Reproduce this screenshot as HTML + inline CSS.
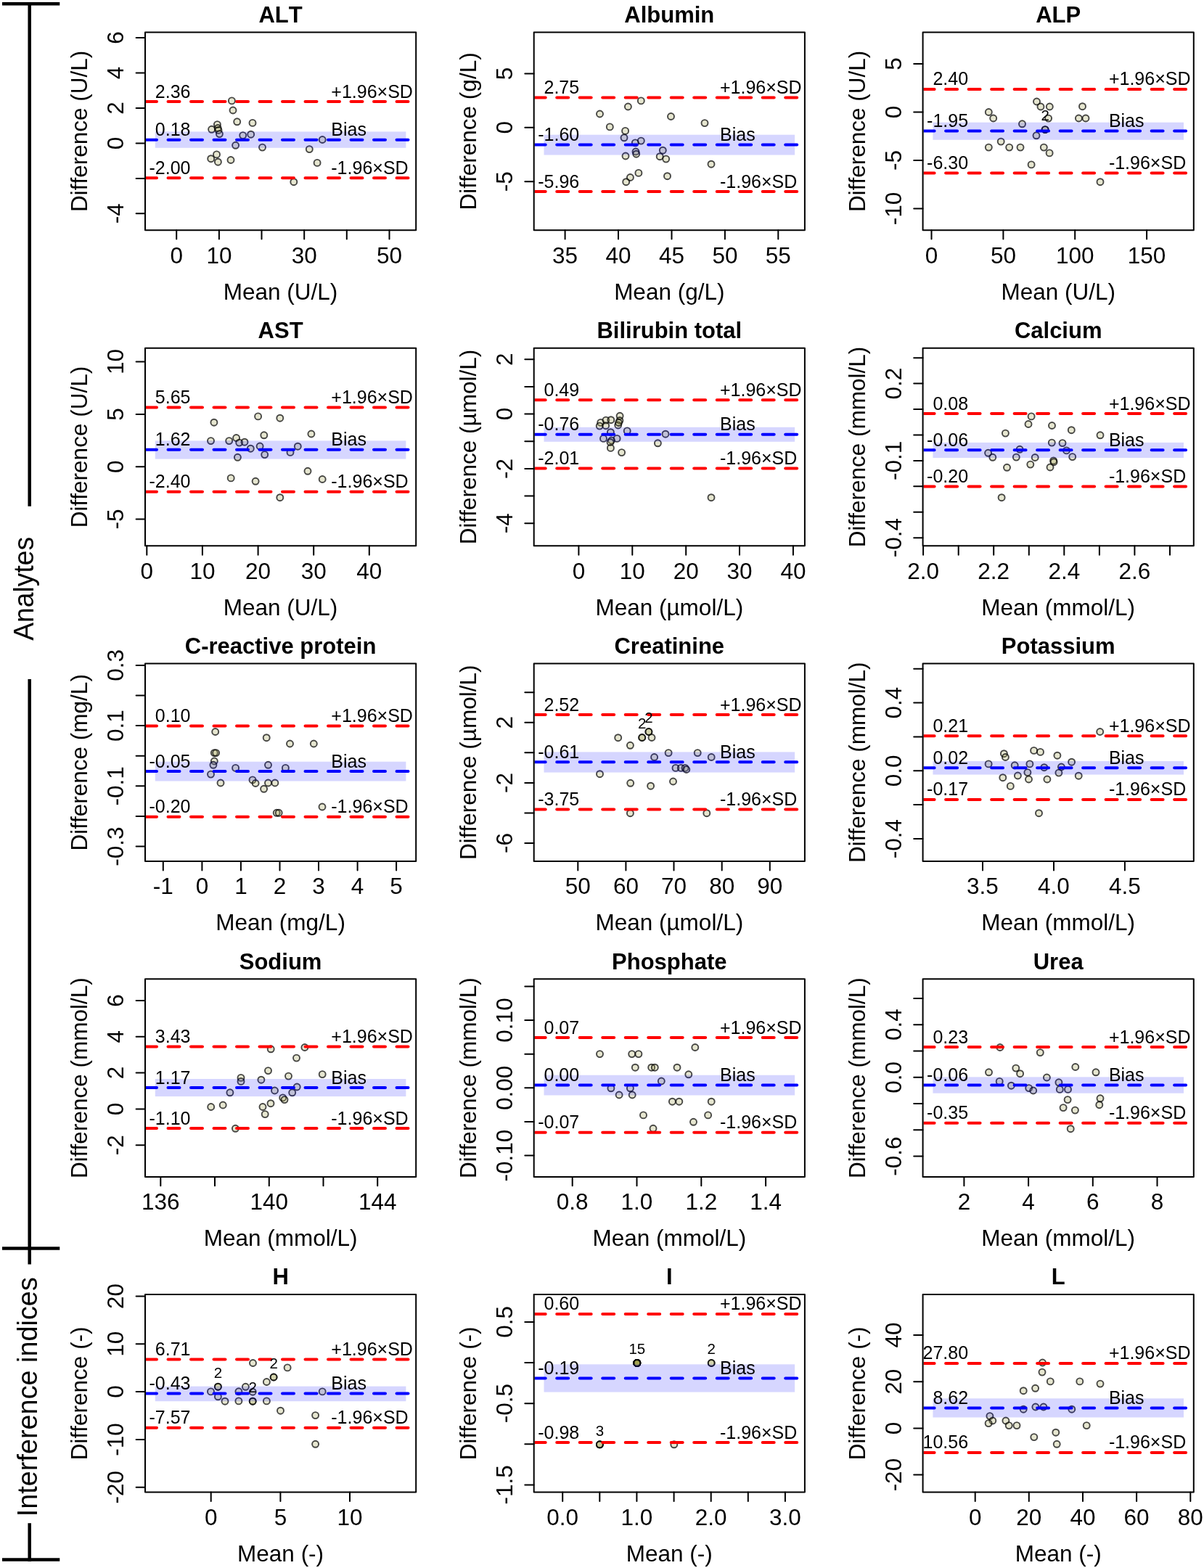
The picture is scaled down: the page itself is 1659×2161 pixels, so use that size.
<!DOCTYPE html>
<html><head><meta charset="utf-8"><title>Bland-Altman plots</title>
<style>html,body{margin:0;padding:0;background:#fff}svg{display:block}text{font-kerning:none}.ax{font-family:"Liberation Sans",Arial,sans-serif;font-size:31.5px}.ti{font-family:"Liberation Sans",Arial,sans-serif;font-size:31.0px;font-weight:bold}.in{font-family:"Liberation Sans",Arial,sans-serif;font-size:25.0px}.cn{font-family:"Liberation Sans",Arial,sans-serif;font-size:20.5px}.side{font-family:"Liberation Sans",Arial,sans-serif;font-size:38px}</style></head><body>
<svg width="1659" height="2161" viewBox="0 0 1659 2161">
<rect width="1659" height="2161" fill="#fff"/>
<defs>
<clipPath id="c0"><rect x="201.0" y="45.6" width="371.2" height="270.6"/></clipPath>
<clipPath id="c1"><rect x="736.7" y="45.6" width="371.2" height="270.6"/></clipPath>
<clipPath id="c2"><rect x="1272.6" y="45.6" width="371.2" height="270.6"/></clipPath>
<clipPath id="c3"><rect x="201.0" y="480.7" width="371.2" height="270.6"/></clipPath>
<clipPath id="c4"><rect x="736.7" y="480.7" width="371.2" height="270.6"/></clipPath>
<clipPath id="c5"><rect x="1272.6" y="480.7" width="371.2" height="270.6"/></clipPath>
<clipPath id="c6"><rect x="201.0" y="915.5" width="371.2" height="270.6"/></clipPath>
<clipPath id="c7"><rect x="736.7" y="915.5" width="371.2" height="270.6"/></clipPath>
<clipPath id="c8"><rect x="1272.6" y="915.5" width="371.2" height="270.6"/></clipPath>
<clipPath id="c9"><rect x="201.0" y="1350.3" width="371.2" height="270.6"/></clipPath>
<clipPath id="c10"><rect x="736.7" y="1350.3" width="371.2" height="270.6"/></clipPath>
<clipPath id="c11"><rect x="1272.6" y="1350.3" width="371.2" height="270.6"/></clipPath>
<clipPath id="c12"><rect x="201.0" y="1785.0" width="371.2" height="270.6"/></clipPath>
<clipPath id="c13"><rect x="736.7" y="1785.0" width="371.2" height="270.6"/></clipPath>
<clipPath id="c14"><rect x="1272.6" y="1785.0" width="371.2" height="270.6"/></clipPath>
</defs>
<g stroke="#000" stroke-width="4.5" fill="none"><line x1="3" y1="5.25" x2="82.3" y2="5.25"/><line x1="40.7" y1="3" x2="40.7" y2="697.8"/><line x1="40.7" y1="936" x2="40.7" y2="1742.4"/><line x1="3" y1="1720.5" x2="82.3" y2="1720.5"/><line x1="40.7" y1="2099.2" x2="40.7" y2="2152"/><line x1="3" y1="2149.5" x2="82.3" y2="2149.5"/></g>
<text class="side" transform="translate(45.9,882.8) rotate(-90)" textLength="143" lengthAdjust="spacingAndGlyphs">Analytes</text>
<text class="side" transform="translate(50.5,2090.2) rotate(-90)" textLength="330" lengthAdjust="spacingAndGlyphs">Interference indices</text>
<g>
<g clip-path="url(#c0)" fill="rgba(163,163,82,0.27)" stroke="rgba(0,0,0,0.71)" stroke-width="1.90"><circle cx="319.4" cy="138.9" r="4.50"/><circle cx="321.0" cy="152.0" r="4.50"/><circle cx="326.7" cy="167.8" r="4.50"/><circle cx="348.0" cy="169.4" r="4.50"/><circle cx="299.4" cy="171.6" r="4.50"/><circle cx="291.6" cy="178.3" r="4.50"/><circle cx="300.2" cy="176.5" r="4.50"/><circle cx="301.0" cy="179.5" r="4.50"/><circle cx="302.4" cy="184.6" r="4.50"/><circle cx="334.7" cy="186.6" r="4.50"/><circle cx="345.7" cy="185.2" r="4.50"/><circle cx="444.2" cy="192.5" r="4.50"/><circle cx="324.6" cy="200.3" r="4.50"/><circle cx="361.5" cy="203.1" r="4.50"/><circle cx="426.3" cy="205.6" r="4.50"/><circle cx="298.5" cy="212.9" r="4.50"/><circle cx="290.7" cy="218.7" r="4.50"/><circle cx="300.4" cy="223.2" r="4.50"/><circle cx="318.0" cy="220.5" r="4.50"/><circle cx="437.1" cy="224.4" r="4.50"/><circle cx="404.8" cy="250.7" r="4.50"/></g>
<rect x="213.8" y="181.4" width="345.6" height="22.4" fill="rgba(0,0,255,0.16)"/>
<g clip-path="url(#c0)" stroke-width="4.0" stroke-linecap="round" stroke-dasharray="16 15.5" fill="none"><line x1="200.0" y1="192.8" x2="573.2" y2="192.8" stroke="#0000ff"/><line x1="200.0" y1="140.1" x2="573.2" y2="140.1" stroke="#ff0000"/><line x1="200.0" y1="245.3" x2="573.2" y2="245.3" stroke="#ff0000"/></g>
<g class="in" clip-path="url(#c0)"><text x="262.5" y="134.6" text-anchor="end">2.36</text><text x="262.5" y="187.3" text-anchor="end">0.18</text><text x="262.5" y="239.8" text-anchor="end">-2.00</text><text x="456.3" y="134.6">+1.96×SD</text><text x="456.3" y="187.3">Bias</text><text x="456.3" y="239.8">-1.96×SD</text></g>
<rect x="200.0" y="44.6" width="373.2" height="272.6" fill="none" stroke="#000" stroke-width="2" stroke-linejoin="round"/>
<path d="M187.6 52.0H200.0M187.6 100.5H200.0M187.6 148.9H200.0M187.6 197.4H200.0M187.6 245.9H200.0M187.6 294.3H200.0M243.2 317.2V329.6M301.9 317.2V329.6M360.5 317.2V329.6M419.2 317.2V329.6M477.8 317.2V329.6M536.5 317.2V329.6" stroke="#000" stroke-width="2" stroke-linecap="round" fill="none"/>
<g class="ax" text-anchor="middle"><text transform="translate(170.4,52.0) rotate(-90)">6</text><text transform="translate(170.4,100.5) rotate(-90)">4</text><text transform="translate(170.4,148.9) rotate(-90)">2</text><text transform="translate(170.4,197.4) rotate(-90)">0</text><text transform="translate(170.4,294.3) rotate(-90)">-4</text><text x="243.2" y="362.5">0</text><text x="301.9" y="362.5">10</text><text x="419.2" y="362.5">30</text><text x="536.5" y="362.5">50</text><text x="386.6" y="412.5">Mean (U/L)</text><text transform="translate(120.3,180.9) rotate(-90)">Difference (U/L)</text></g>
<text class="ti" x="386.6" y="30.9" text-anchor="middle">ALT</text>
</g>
<g>
<g clip-path="url(#c1)" fill="rgba(163,163,82,0.27)" stroke="rgba(0,0,0,0.71)" stroke-width="1.90"><circle cx="883.3" cy="138.9" r="4.50"/><circle cx="865.4" cy="147.0" r="4.50"/><circle cx="826.5" cy="157.0" r="4.50"/><circle cx="924.5" cy="160.5" r="4.50"/><circle cx="971.0" cy="169.6" r="4.50"/><circle cx="840.3" cy="174.9" r="4.50"/><circle cx="861.6" cy="180.4" r="4.50"/><circle cx="860.0" cy="189.8" r="4.50"/><circle cx="883.3" cy="194.1" r="4.50"/><circle cx="875.3" cy="196.9" r="4.50"/><circle cx="913.3" cy="207.2" r="4.50"/><circle cx="876.0" cy="209.0" r="4.50"/><circle cx="876.7" cy="212.2" r="4.50"/><circle cx="862.0" cy="215.0" r="4.50"/><circle cx="909.2" cy="215.7" r="4.50"/><circle cx="917.7" cy="219.1" r="4.50"/><circle cx="980.0" cy="226.2" r="4.50"/><circle cx="879.9" cy="238.4" r="4.50"/><circle cx="919.5" cy="242.7" r="4.50"/><circle cx="868.4" cy="244.5" r="4.50"/><circle cx="862.7" cy="250.7" r="4.50"/></g>
<rect x="749.5" y="185.7" width="345.6" height="27.9" fill="rgba(0,0,255,0.16)"/>
<g clip-path="url(#c1)" stroke-width="4.0" stroke-linecap="round" stroke-dasharray="16 15.5" fill="none"><line x1="735.7" y1="199.4" x2="1108.9" y2="199.4" stroke="#0000ff"/><line x1="735.7" y1="134.6" x2="1108.9" y2="134.6" stroke="#ff0000"/><line x1="735.7" y1="264.1" x2="1108.9" y2="264.1" stroke="#ff0000"/></g>
<g class="in" clip-path="url(#c1)"><text x="798.2" y="129.1" text-anchor="end">2.75</text><text x="798.2" y="193.9" text-anchor="end">-1.60</text><text x="798.2" y="258.6" text-anchor="end">-5.96</text><text x="992.0" y="129.1">+1.96×SD</text><text x="992.0" y="193.9">Bias</text><text x="992.0" y="258.6">-1.96×SD</text></g>
<rect x="735.7" y="44.6" width="373.2" height="272.6" fill="none" stroke="#000" stroke-width="2" stroke-linejoin="round"/>
<path d="M723.3 101.4H735.7M723.3 175.8H735.7M723.3 250.2H735.7M778.6 317.2V329.6M852.0 317.2V329.6M925.5 317.2V329.6M998.9 317.2V329.6M1072.3 317.2V329.6" stroke="#000" stroke-width="2" stroke-linecap="round" fill="none"/>
<g class="ax" text-anchor="middle"><text transform="translate(706.1,101.4) rotate(-90)">5</text><text transform="translate(706.1,175.8) rotate(-90)">0</text><text transform="translate(706.1,250.2) rotate(-90)">-5</text><text x="778.6" y="362.5">35</text><text x="852.0" y="362.5">40</text><text x="925.5" y="362.5">45</text><text x="998.9" y="362.5">50</text><text x="1072.3" y="362.5">55</text><text x="922.3" y="412.5">Mean (g/L)</text><text transform="translate(656.0,180.9) rotate(-90)">Difference (g/L)</text></g>
<text class="ti" x="922.3" y="30.9" text-anchor="middle">Albumin</text>
</g>
<g>
<g clip-path="url(#c2)" fill="rgba(163,163,82,0.27)" stroke="rgba(0,0,0,0.71)" stroke-width="1.90"><circle cx="1428.5" cy="140.0" r="4.50"/><circle cx="1434.0" cy="147.0" r="4.50"/><circle cx="1446.3" cy="147.0" r="4.50"/><circle cx="1491.5" cy="146.7" r="4.50"/><circle cx="1362.3" cy="154.5" r="4.50"/><circle cx="1368.7" cy="163.0" r="4.50"/><circle cx="1444.6" cy="163.1" r="4.50"/><circle cx="1486.4" cy="163.0" r="4.50"/><circle cx="1496.0" cy="163.0" r="4.50"/><circle cx="1408.5" cy="170.8" r="4.50"/><circle cx="1440.1" cy="178.6" r="4.50"/><circle cx="1440.1" cy="178.6" r="4.50"/><circle cx="1428.0" cy="186.8" r="4.50"/><circle cx="1379.2" cy="195.1" r="4.50"/><circle cx="1362.3" cy="203.1" r="4.50"/><circle cx="1390.7" cy="203.1" r="4.50"/><circle cx="1406.0" cy="203.1" r="4.50"/><circle cx="1438.3" cy="203.1" r="4.50"/><circle cx="1446.1" cy="210.9" r="4.50"/><circle cx="1421.1" cy="226.9" r="4.50"/><circle cx="1516.0" cy="250.7" r="4.50"/></g>
<rect x="1285.4" y="168.7" width="345.6" height="24.1" fill="rgba(0,0,255,0.16)"/>
<g clip-path="url(#c2)" stroke-width="4.0" stroke-linecap="round" stroke-dasharray="16 15.5" fill="none"><line x1="1271.6" y1="180.6" x2="1644.8" y2="180.6" stroke="#0000ff"/><line x1="1271.6" y1="122.9" x2="1644.8" y2="122.9" stroke="#ff0000"/><line x1="1271.6" y1="238.4" x2="1644.8" y2="238.4" stroke="#ff0000"/></g>
<g class="in" clip-path="url(#c2)"><text x="1334.1" y="117.4" text-anchor="end">2.40</text><text x="1334.1" y="175.1" text-anchor="end">-1.95</text><text x="1334.1" y="232.9" text-anchor="end">-6.30</text><text x="1527.9" y="117.4">+1.96×SD</text><text x="1527.9" y="175.1">Bias</text><text x="1527.9" y="232.9">-1.96×SD</text></g>
<text class="cn" x="1440.1" y="166.3" text-anchor="middle">2</text>
<rect x="1271.6" y="44.6" width="373.2" height="272.6" fill="none" stroke="#000" stroke-width="2" stroke-linejoin="round"/>
<path d="M1259.2 88.1H1271.6M1259.2 154.5H1271.6M1259.2 221.0H1271.6M1259.2 287.4H1271.6M1283.5 317.2V329.6M1382.4 317.2V329.6M1481.2 317.2V329.6M1580.1 317.2V329.6" stroke="#000" stroke-width="2" stroke-linecap="round" fill="none"/>
<g class="ax" text-anchor="middle"><text transform="translate(1242.0,88.1) rotate(-90)">5</text><text transform="translate(1242.0,154.5) rotate(-90)">0</text><text transform="translate(1242.0,221.0) rotate(-90)">-5</text><text transform="translate(1242.0,287.4) rotate(-90)">-10</text><text x="1283.5" y="362.5">0</text><text x="1382.4" y="362.5">50</text><text x="1481.2" y="362.5">100</text><text x="1580.1" y="362.5">150</text><text x="1458.2" y="412.5">Mean (U/L)</text><text transform="translate(1191.9,180.9) rotate(-90)">Difference (U/L)</text></g>
<text class="ti" x="1458.2" y="30.9" text-anchor="middle">ALP</text>
</g>
<g>
<g clip-path="url(#c3)" fill="rgba(163,163,82,0.27)" stroke="rgba(0,0,0,0.71)" stroke-width="1.90"><circle cx="355.6" cy="573.9" r="4.50"/><circle cx="385.8" cy="576.2" r="4.50"/><circle cx="294.9" cy="582.2" r="4.50"/><circle cx="363.8" cy="599.8" r="4.50"/><circle cx="428.9" cy="598.0" r="4.50"/><circle cx="325.6" cy="603.5" r="4.50"/><circle cx="290.5" cy="607.6" r="4.50"/><circle cx="315.7" cy="607.6" r="4.50"/><circle cx="329.7" cy="610.1" r="4.50"/><circle cx="337.0" cy="609.2" r="4.50"/><circle cx="358.1" cy="615.0" r="4.50"/><circle cx="410.3" cy="615.2" r="4.50"/><circle cx="345.3" cy="618.2" r="4.50"/><circle cx="400.0" cy="623.4" r="4.50"/><circle cx="364.7" cy="626.6" r="4.50"/><circle cx="327.4" cy="630.3" r="4.50"/><circle cx="424.0" cy="649.3" r="4.50"/><circle cx="318.2" cy="658.9" r="4.50"/><circle cx="444.2" cy="660.5" r="4.50"/><circle cx="352.1" cy="663.3" r="4.50"/><circle cx="385.8" cy="685.7" r="4.50"/></g>
<rect x="213.8" y="607.4" width="345.6" height="25.2" fill="rgba(0,0,255,0.16)"/>
<g clip-path="url(#c3)" stroke-width="4.0" stroke-linecap="round" stroke-dasharray="16 15.5" fill="none"><line x1="200.0" y1="619.8" x2="573.2" y2="619.8" stroke="#0000ff"/><line x1="200.0" y1="561.6" x2="573.2" y2="561.6" stroke="#ff0000"/><line x1="200.0" y1="677.7" x2="573.2" y2="677.7" stroke="#ff0000"/></g>
<g class="in" clip-path="url(#c3)"><text x="262.5" y="556.1" text-anchor="end">5.65</text><text x="262.5" y="614.3" text-anchor="end">1.62</text><text x="262.5" y="672.2" text-anchor="end">-2.40</text><text x="456.3" y="556.1">+1.96×SD</text><text x="456.3" y="614.3">Bias</text><text x="456.3" y="672.2">-1.96×SD</text></g>
<rect x="200.0" y="479.7" width="373.2" height="272.6" fill="none" stroke="#000" stroke-width="2" stroke-linejoin="round"/>
<path d="M187.6 498.6H200.0M187.6 570.9H200.0M187.6 643.2H200.0M187.6 715.5H200.0M202.3 752.3V764.7M278.9 752.3V764.7M355.6 752.3V764.7M432.2 752.3V764.7M508.8 752.3V764.7" stroke="#000" stroke-width="2" stroke-linecap="round" fill="none"/>
<g class="ax" text-anchor="middle"><text transform="translate(170.4,498.6) rotate(-90)">10</text><text transform="translate(170.4,570.9) rotate(-90)">5</text><text transform="translate(170.4,643.2) rotate(-90)">0</text><text transform="translate(170.4,715.5) rotate(-90)">-5</text><text x="202.3" y="797.6">0</text><text x="278.9" y="797.6">10</text><text x="355.6" y="797.6">20</text><text x="432.2" y="797.6">30</text><text x="508.8" y="797.6">40</text><text x="386.6" y="847.6">Mean (U/L)</text><text transform="translate(120.3,616.0) rotate(-90)">Difference (U/L)</text></g>
<text class="ti" x="386.6" y="466.0" text-anchor="middle">AST</text>
</g>
<g>
<g clip-path="url(#c4)" fill="rgba(163,163,82,0.27)" stroke="rgba(0,0,0,0.71)" stroke-width="1.90"><circle cx="854.1" cy="573.3" r="4.50"/><circle cx="853.9" cy="579.5" r="4.50"/><circle cx="851.7" cy="586.0" r="4.50"/><circle cx="827.7" cy="582.4" r="4.50"/><circle cx="834.9" cy="579.1" r="4.50"/><circle cx="841.8" cy="578.7" r="4.50"/><circle cx="826.2" cy="587.1" r="4.50"/><circle cx="834.7" cy="586.7" r="4.50"/><circle cx="852.5" cy="582.5" r="4.50"/><circle cx="864.2" cy="593.9" r="4.50"/><circle cx="841.4" cy="595.7" r="4.50"/><circle cx="917.0" cy="598.2" r="4.50"/><circle cx="831.5" cy="604.4" r="4.50"/><circle cx="850.1" cy="604.4" r="4.50"/><circle cx="842.5" cy="607.0" r="4.50"/><circle cx="841.0" cy="609.5" r="4.50"/><circle cx="906.4" cy="610.8" r="4.50"/><circle cx="841.4" cy="617.4" r="4.50"/><circle cx="856.6" cy="623.6" r="4.50"/><circle cx="980.0" cy="685.7" r="4.50"/></g>
<rect x="749.5" y="588.8" width="345.6" height="20.0" fill="rgba(0,0,255,0.16)"/>
<g clip-path="url(#c4)" stroke-width="4.0" stroke-linecap="round" stroke-dasharray="16 15.5" fill="none"><line x1="735.7" y1="598.7" x2="1108.9" y2="598.7" stroke="#0000ff"/><line x1="735.7" y1="551.3" x2="1108.9" y2="551.3" stroke="#ff0000"/><line x1="735.7" y1="645.6" x2="1108.9" y2="645.6" stroke="#ff0000"/></g>
<g class="in" clip-path="url(#c4)"><text x="798.2" y="545.8" text-anchor="end">0.49</text><text x="798.2" y="593.2" text-anchor="end">-0.76</text><text x="798.2" y="640.1" text-anchor="end">-2.01</text><text x="992.0" y="545.8">+1.96×SD</text><text x="992.0" y="593.2">Bias</text><text x="992.0" y="640.1">-1.96×SD</text></g>
<rect x="735.7" y="479.7" width="373.2" height="272.6" fill="none" stroke="#000" stroke-width="2" stroke-linejoin="round"/>
<path d="M723.3 495.2H735.7M723.3 532.9H735.7M723.3 570.5H735.7M723.3 608.2H735.7M723.3 645.9H735.7M723.3 683.5H735.7M723.3 721.2H735.7M797.4 752.3V764.7M871.3 752.3V764.7M945.2 752.3V764.7M1019.0 752.3V764.7M1092.9 752.3V764.7" stroke="#000" stroke-width="2" stroke-linecap="round" fill="none"/>
<g class="ax" text-anchor="middle"><text transform="translate(706.1,495.2) rotate(-90)">2</text><text transform="translate(706.1,570.5) rotate(-90)">0</text><text transform="translate(706.1,645.9) rotate(-90)">-2</text><text transform="translate(706.1,721.2) rotate(-90)">-4</text><text x="797.4" y="797.6">0</text><text x="871.3" y="797.6">10</text><text x="945.2" y="797.6">20</text><text x="1019.0" y="797.6">30</text><text x="1092.9" y="797.6">40</text><text x="922.3" y="847.6">Mean (µmol/L)</text><text transform="translate(656.0,616.0) rotate(-90)">Difference (µmol/L)</text></g>
<text class="ti" x="922.3" y="466.0" text-anchor="middle">Bilirubin total</text>
</g>
<g>
<g clip-path="url(#c5)" fill="rgba(163,163,82,0.27)" stroke="rgba(0,0,0,0.71)" stroke-width="1.90"><circle cx="1421.1" cy="573.9" r="4.50"/><circle cx="1417.0" cy="584.5" r="4.50"/><circle cx="1449.5" cy="586.5" r="4.50"/><circle cx="1476.3" cy="592.7" r="4.50"/><circle cx="1385.4" cy="597.1" r="4.50"/><circle cx="1516.0" cy="599.8" r="4.50"/><circle cx="1449.3" cy="610.1" r="4.50"/><circle cx="1464.0" cy="610.6" r="4.50"/><circle cx="1405.1" cy="619.3" r="4.50"/><circle cx="1469.5" cy="620.9" r="4.50"/><circle cx="1361.6" cy="624.3" r="4.50"/><circle cx="1367.8" cy="630.3" r="4.50"/><circle cx="1400.3" cy="630.1" r="4.50"/><circle cx="1426.2" cy="630.5" r="4.50"/><circle cx="1477.7" cy="629.6" r="4.50"/><circle cx="1451.6" cy="634.9" r="4.50"/><circle cx="1452.1" cy="636.7" r="4.50"/><circle cx="1419.8" cy="640.1" r="4.50"/><circle cx="1387.5" cy="644.3" r="4.50"/><circle cx="1447.0" cy="644.0" r="4.50"/><circle cx="1380.1" cy="685.7" r="4.50"/></g>
<rect x="1285.4" y="609.9" width="345.6" height="21.1" fill="rgba(0,0,255,0.16)"/>
<g clip-path="url(#c5)" stroke-width="4.0" stroke-linecap="round" stroke-dasharray="16 15.5" fill="none"><line x1="1271.6" y1="620.3" x2="1644.8" y2="620.3" stroke="#0000ff"/><line x1="1271.6" y1="570.0" x2="1644.8" y2="570.0" stroke="#ff0000"/><line x1="1271.6" y1="670.5" x2="1644.8" y2="670.5" stroke="#ff0000"/></g>
<g class="in" clip-path="url(#c5)"><text x="1334.1" y="564.5" text-anchor="end">0.08</text><text x="1334.1" y="614.8" text-anchor="end">-0.06</text><text x="1334.1" y="665.0" text-anchor="end">-0.20</text><text x="1527.9" y="564.5">+1.96×SD</text><text x="1527.9" y="614.8">Bias</text><text x="1527.9" y="665.0">-1.96×SD</text></g>
<rect x="1271.6" y="479.7" width="373.2" height="272.6" fill="none" stroke="#000" stroke-width="2" stroke-linejoin="round"/>
<path d="M1259.2 493.2H1271.6M1259.2 528.6H1271.6M1259.2 564.1H1271.6M1259.2 599.5H1271.6M1259.2 634.9H1271.6M1259.2 670.3H1271.6M1259.2 705.8H1271.6M1259.2 741.2H1271.6M1272.1 752.3V764.7M1320.7 752.3V764.7M1369.2 752.3V764.7M1417.8 752.3V764.7M1466.3 752.3V764.7M1514.9 752.3V764.7M1563.4 752.3V764.7M1612.0 752.3V764.7" stroke="#000" stroke-width="2" stroke-linecap="round" fill="none"/>
<g class="ax" text-anchor="middle"><text transform="translate(1242.0,528.6) rotate(-90)">0.2</text><text transform="translate(1242.0,634.9) rotate(-90)">-0.1</text><text transform="translate(1242.0,741.2) rotate(-90)">-0.4</text><text x="1272.1" y="797.6">2.0</text><text x="1369.2" y="797.6">2.2</text><text x="1466.3" y="797.6">2.4</text><text x="1563.4" y="797.6">2.6</text><text x="1458.2" y="847.6">Mean (mmol/L)</text><text transform="translate(1191.9,616.0) rotate(-90)">Difference (mmol/L)</text></g>
<text class="ti" x="1458.2" y="466.0" text-anchor="middle">Calcium</text>
</g>
<g>
<g clip-path="url(#c6)" fill="rgba(163,163,82,0.27)" stroke="rgba(0,0,0,0.71)" stroke-width="1.90"><circle cx="296.7" cy="1008.5" r="4.50"/><circle cx="367.2" cy="1016.7" r="4.50"/><circle cx="399.5" cy="1025.0" r="4.50"/><circle cx="432.3" cy="1025.0" r="4.50"/><circle cx="295.3" cy="1037.6" r="4.50"/><circle cx="297.6" cy="1037.6" r="4.50"/><circle cx="295.3" cy="1049.0" r="4.50"/><circle cx="293.9" cy="1054.3" r="4.50"/><circle cx="324.6" cy="1058.4" r="4.50"/><circle cx="369.5" cy="1054.3" r="4.50"/><circle cx="393.4" cy="1058.4" r="4.50"/><circle cx="290.5" cy="1067.1" r="4.50"/><circle cx="304.0" cy="1079.0" r="4.50"/><circle cx="348.0" cy="1074.9" r="4.50"/><circle cx="352.1" cy="1079.5" r="4.50"/><circle cx="369.5" cy="1079.0" r="4.50"/><circle cx="378.9" cy="1079.0" r="4.50"/><circle cx="363.6" cy="1087.3" r="4.50"/><circle cx="381.2" cy="1120.3" r="4.50"/><circle cx="384.2" cy="1120.3" r="4.50"/><circle cx="444.0" cy="1112.0" r="4.50"/></g>
<rect x="213.8" y="1049.7" width="345.6" height="26.8" fill="rgba(0,0,255,0.16)"/>
<g clip-path="url(#c6)" stroke-width="4.0" stroke-linecap="round" stroke-dasharray="16 15.5" fill="none"><line x1="200.0" y1="1063.0" x2="573.2" y2="1063.0" stroke="#0000ff"/><line x1="200.0" y1="1000.5" x2="573.2" y2="1000.5" stroke="#ff0000"/><line x1="200.0" y1="1125.8" x2="573.2" y2="1125.8" stroke="#ff0000"/></g>
<g class="in" clip-path="url(#c6)"><text x="262.5" y="995.0" text-anchor="end">0.10</text><text x="262.5" y="1057.5" text-anchor="end">-0.05</text><text x="262.5" y="1120.3" text-anchor="end">-0.20</text><text x="456.3" y="995.0">+1.96×SD</text><text x="456.3" y="1057.5">Bias</text><text x="456.3" y="1120.3">-1.96×SD</text></g>
<rect x="200.0" y="914.5" width="373.2" height="272.6" fill="none" stroke="#000" stroke-width="2" stroke-linejoin="round"/>
<path d="M187.6 916.9H200.0M187.6 958.5H200.0M187.6 1000.1H200.0M187.6 1041.7H200.0M187.6 1083.3H200.0M187.6 1124.9H200.0M187.6 1166.5H200.0M224.8 1187.1V1199.5M278.4 1187.1V1199.5M331.9 1187.1V1199.5M385.5 1187.1V1199.5M439.0 1187.1V1199.5M492.6 1187.1V1199.5M546.1 1187.1V1199.5" stroke="#000" stroke-width="2" stroke-linecap="round" fill="none"/>
<g class="ax" text-anchor="middle"><text transform="translate(170.4,916.9) rotate(-90)">0.3</text><text transform="translate(170.4,1000.1) rotate(-90)">0.1</text><text transform="translate(170.4,1083.3) rotate(-90)">-0.1</text><text transform="translate(170.4,1166.5) rotate(-90)">-0.3</text><text x="224.8" y="1232.4">-1</text><text x="278.4" y="1232.4">0</text><text x="331.9" y="1232.4">1</text><text x="385.5" y="1232.4">2</text><text x="439.0" y="1232.4">3</text><text x="492.6" y="1232.4">4</text><text x="546.1" y="1232.4">5</text><text x="386.6" y="1282.4">Mean (mg/L)</text><text transform="translate(120.3,1050.8) rotate(-90)">Difference (mg/L)</text></g>
<text class="ti" x="386.6" y="900.8" text-anchor="middle">C-reactive protein</text>
</g>
<g>
<g clip-path="url(#c7)" fill="rgba(163,163,82,0.27)" stroke="rgba(0,0,0,0.71)" stroke-width="1.90"><circle cx="893.9" cy="1008.5" r="4.50"/><circle cx="893.9" cy="1008.5" r="4.50"/><circle cx="884.7" cy="1016.5" r="4.50"/><circle cx="884.7" cy="1016.5" r="4.50"/><circle cx="898.0" cy="1016.5" r="4.50"/><circle cx="851.7" cy="1016.7" r="4.50"/><circle cx="868.4" cy="1027.3" r="4.50"/><circle cx="921.1" cy="1037.6" r="4.50"/><circle cx="961.2" cy="1037.6" r="4.50"/><circle cx="901.6" cy="1043.5" r="4.50"/><circle cx="980.2" cy="1043.5" r="4.50"/><circle cx="931.0" cy="1058.4" r="4.50"/><circle cx="938.3" cy="1058.4" r="4.50"/><circle cx="944.0" cy="1058.4" r="4.50"/><circle cx="945.8" cy="1060.5" r="4.50"/><circle cx="826.5" cy="1066.7" r="4.50"/><circle cx="868.7" cy="1079.3" r="4.50"/><circle cx="927.5" cy="1077.0" r="4.50"/><circle cx="896.6" cy="1083.2" r="4.50"/><circle cx="868.4" cy="1120.7" r="4.50"/><circle cx="973.8" cy="1120.7" r="4.50"/></g>
<rect x="749.5" y="1036.4" width="345.6" height="28.2" fill="rgba(0,0,255,0.16)"/>
<g clip-path="url(#c7)" stroke-width="4.0" stroke-linecap="round" stroke-dasharray="16 15.5" fill="none"><line x1="735.7" y1="1050.2" x2="1108.9" y2="1050.2" stroke="#0000ff"/><line x1="735.7" y1="985.1" x2="1108.9" y2="985.1" stroke="#ff0000"/><line x1="735.7" y1="1115.5" x2="1108.9" y2="1115.5" stroke="#ff0000"/></g>
<g class="in" clip-path="url(#c7)"><text x="798.2" y="979.6" text-anchor="end">2.52</text><text x="798.2" y="1044.7" text-anchor="end">-0.61</text><text x="798.2" y="1110.0" text-anchor="end">-3.75</text><text x="992.0" y="979.6">+1.96×SD</text><text x="992.0" y="1044.7">Bias</text><text x="992.0" y="1110.0">-1.96×SD</text></g>
<text class="cn" x="893.9" y="996.2" text-anchor="middle">2</text>
<text class="cn" x="884.7" y="1004.2" text-anchor="middle">2</text>
<rect x="735.7" y="914.5" width="373.2" height="272.6" fill="none" stroke="#000" stroke-width="2" stroke-linejoin="round"/>
<path d="M723.3 954.2H735.7M723.3 995.8H735.7M723.3 1037.3H735.7M723.3 1078.9H735.7M723.3 1120.4H735.7M723.3 1162.0H735.7M796.3 1187.1V1199.5M862.4 1187.1V1199.5M928.5 1187.1V1199.5M994.7 1187.1V1199.5M1060.8 1187.1V1199.5" stroke="#000" stroke-width="2" stroke-linecap="round" fill="none"/>
<g class="ax" text-anchor="middle"><text transform="translate(706.1,995.8) rotate(-90)">2</text><text transform="translate(706.1,1078.9) rotate(-90)">-2</text><text transform="translate(706.1,1162.0) rotate(-90)">-6</text><text x="796.3" y="1232.4">50</text><text x="862.4" y="1232.4">60</text><text x="928.5" y="1232.4">70</text><text x="994.7" y="1232.4">80</text><text x="1060.8" y="1232.4">90</text><text x="922.3" y="1282.4">Mean (µmol/L)</text><text transform="translate(656.0,1050.8) rotate(-90)">Difference (µmol/L)</text></g>
<text class="ti" x="922.3" y="900.8" text-anchor="middle">Creatinine</text>
</g>
<g>
<g clip-path="url(#c8)" fill="rgba(163,163,82,0.27)" stroke="rgba(0,0,0,0.71)" stroke-width="1.90"><circle cx="1515.7" cy="1008.5" r="4.50"/><circle cx="1424.6" cy="1034.4" r="4.50"/><circle cx="1433.5" cy="1036.4" r="4.50"/><circle cx="1383.4" cy="1038.7" r="4.50"/><circle cx="1385.4" cy="1043.5" r="4.50"/><circle cx="1456.9" cy="1041.2" r="4.50"/><circle cx="1476.6" cy="1050.2" r="4.50"/><circle cx="1362.1" cy="1052.9" r="4.50"/><circle cx="1398.2" cy="1054.8" r="4.50"/><circle cx="1418.9" cy="1052.9" r="4.50"/><circle cx="1438.8" cy="1057.7" r="4.50"/><circle cx="1462.4" cy="1057.0" r="4.50"/><circle cx="1415.9" cy="1064.6" r="4.50"/><circle cx="1458.9" cy="1065.1" r="4.50"/><circle cx="1381.8" cy="1071.7" r="4.50"/><circle cx="1402.4" cy="1069.0" r="4.50"/><circle cx="1417.5" cy="1074.0" r="4.50"/><circle cx="1442.9" cy="1074.0" r="4.50"/><circle cx="1486.2" cy="1069.2" r="4.50"/><circle cx="1392.3" cy="1083.4" r="4.50"/><circle cx="1431.5" cy="1120.7" r="4.50"/></g>
<rect x="1285.4" y="1049.0" width="345.6" height="18.6" fill="rgba(0,0,255,0.16)"/>
<g clip-path="url(#c8)" stroke-width="4.0" stroke-linecap="round" stroke-dasharray="16 15.5" fill="none"><line x1="1271.6" y1="1058.2" x2="1644.8" y2="1058.2" stroke="#0000ff"/><line x1="1271.6" y1="1014.2" x2="1644.8" y2="1014.2" stroke="#ff0000"/><line x1="1271.6" y1="1101.9" x2="1644.8" y2="1101.9" stroke="#ff0000"/></g>
<g class="in" clip-path="url(#c8)"><text x="1334.1" y="1008.7" text-anchor="end">0.21</text><text x="1334.1" y="1052.7" text-anchor="end">0.02</text><text x="1334.1" y="1096.4" text-anchor="end">-0.17</text><text x="1527.9" y="1008.7">+1.96×SD</text><text x="1527.9" y="1052.7">Bias</text><text x="1527.9" y="1096.4">-1.96×SD</text></g>
<rect x="1271.6" y="914.5" width="373.2" height="272.6" fill="none" stroke="#000" stroke-width="2" stroke-linejoin="round"/>
<path d="M1259.2 921.7H1271.6M1259.2 968.6H1271.6M1259.2 1015.4H1271.6M1259.2 1062.3H1271.6M1259.2 1109.1H1271.6M1259.2 1156.0H1271.6M1354.0 1187.1V1199.5M1452.0 1187.1V1199.5M1549.9 1187.1V1199.5" stroke="#000" stroke-width="2" stroke-linecap="round" fill="none"/>
<g class="ax" text-anchor="middle"><text transform="translate(1242.0,968.6) rotate(-90)">0.4</text><text transform="translate(1242.0,1062.3) rotate(-90)">0.0</text><text transform="translate(1242.0,1156.0) rotate(-90)">-0.4</text><text x="1354.0" y="1232.4">3.5</text><text x="1452.0" y="1232.4">4.0</text><text x="1549.9" y="1232.4">4.5</text><text x="1458.2" y="1282.4">Mean (mmol/L)</text><text transform="translate(1191.9,1050.8) rotate(-90)">Difference (mmol/L)</text></g>
<text class="ti" x="1458.2" y="900.8" text-anchor="middle">Potassium</text>
</g>
<g>
<g clip-path="url(#c9)" fill="rgba(163,163,82,0.27)" stroke="rgba(0,0,0,0.71)" stroke-width="1.90"><circle cx="373.2" cy="1445.8" r="4.50"/><circle cx="419.9" cy="1443.5" r="4.50"/><circle cx="408.5" cy="1458.1" r="4.50"/><circle cx="369.5" cy="1475.6" r="4.50"/><circle cx="444.2" cy="1480.6" r="4.50"/><circle cx="397.5" cy="1483.1" r="4.50"/><circle cx="332.0" cy="1485.4" r="4.50"/><circle cx="332.0" cy="1490.4" r="4.50"/><circle cx="359.9" cy="1488.2" r="4.50"/><circle cx="409.2" cy="1498.0" r="4.50"/><circle cx="378.5" cy="1503.0" r="4.50"/><circle cx="316.9" cy="1505.8" r="4.50"/><circle cx="402.7" cy="1505.8" r="4.50"/><circle cx="389.7" cy="1512.9" r="4.50"/><circle cx="392.0" cy="1515.6" r="4.50"/><circle cx="373.0" cy="1520.7" r="4.50"/><circle cx="307.2" cy="1523.0" r="4.50"/><circle cx="290.7" cy="1525.5" r="4.50"/><circle cx="362.0" cy="1525.5" r="4.50"/><circle cx="365.2" cy="1535.6" r="4.50"/><circle cx="324.4" cy="1555.3" r="4.50"/></g>
<rect x="213.8" y="1487.0" width="345.6" height="24.1" fill="rgba(0,0,255,0.16)"/>
<g clip-path="url(#c9)" stroke-width="4.0" stroke-linecap="round" stroke-dasharray="16 15.5" fill="none"><line x1="200.0" y1="1499.1" x2="573.2" y2="1499.1" stroke="#0000ff"/><line x1="200.0" y1="1442.6" x2="573.2" y2="1442.6" stroke="#ff0000"/><line x1="200.0" y1="1555.0" x2="573.2" y2="1555.0" stroke="#ff0000"/></g>
<g class="in" clip-path="url(#c9)"><text x="262.5" y="1437.1" text-anchor="end">3.43</text><text x="262.5" y="1493.6" text-anchor="end">1.17</text><text x="262.5" y="1549.5" text-anchor="end">-1.10</text><text x="456.3" y="1437.1">+1.96×SD</text><text x="456.3" y="1493.6">Bias</text><text x="456.3" y="1549.5">-1.96×SD</text></g>
<rect x="200.0" y="1349.3" width="373.2" height="272.6" fill="none" stroke="#000" stroke-width="2" stroke-linejoin="round"/>
<path d="M187.6 1378.9H200.0M187.6 1428.7H200.0M187.6 1478.6H200.0M187.6 1528.4H200.0M187.6 1578.2H200.0M221.3 1621.9V1634.3M296.0 1621.9V1634.3M370.8 1621.9V1634.3M445.5 1621.9V1634.3M520.2 1621.9V1634.3" stroke="#000" stroke-width="2" stroke-linecap="round" fill="none"/>
<g class="ax" text-anchor="middle"><text transform="translate(170.4,1378.9) rotate(-90)">6</text><text transform="translate(170.4,1428.7) rotate(-90)">4</text><text transform="translate(170.4,1478.6) rotate(-90)">2</text><text transform="translate(170.4,1528.4) rotate(-90)">0</text><text transform="translate(170.4,1578.2) rotate(-90)">-2</text><text x="221.3" y="1667.2">136</text><text x="370.8" y="1667.2">140</text><text x="520.2" y="1667.2">144</text><text x="386.6" y="1717.2">Mean (mmol/L)</text><text transform="translate(120.3,1485.6) rotate(-90)">Difference (mmol/L)</text></g>
<text class="ti" x="386.6" y="1335.6" text-anchor="middle">Sodium</text>
</g>
<g>
<g clip-path="url(#c10)" fill="rgba(163,163,82,0.27)" stroke="rgba(0,0,0,0.71)" stroke-width="1.90"><circle cx="957.8" cy="1443.5" r="4.50"/><circle cx="826.5" cy="1452.6" r="4.50"/><circle cx="870.7" cy="1452.6" r="4.50"/><circle cx="879.9" cy="1452.6" r="4.50"/><circle cx="875.3" cy="1471.2" r="4.50"/><circle cx="897.7" cy="1471.2" r="4.50"/><circle cx="902.3" cy="1471.2" r="4.50"/><circle cx="933.0" cy="1471.2" r="4.50"/><circle cx="948.8" cy="1480.8" r="4.50"/><circle cx="911.3" cy="1490.0" r="4.50"/><circle cx="841.9" cy="1499.8" r="4.50"/><circle cx="868.4" cy="1499.8" r="4.50"/><circle cx="853.1" cy="1509.0" r="4.50"/><circle cx="871.2" cy="1509.0" r="4.50"/><circle cx="926.4" cy="1518.2" r="4.50"/><circle cx="935.8" cy="1518.2" r="4.50"/><circle cx="980.2" cy="1518.2" r="4.50"/><circle cx="886.5" cy="1536.9" r="4.50"/><circle cx="975.6" cy="1536.9" r="4.50"/><circle cx="955.5" cy="1546.3" r="4.50"/><circle cx="900.0" cy="1555.3" r="4.50"/></g>
<rect x="749.5" y="1481.7" width="345.6" height="27.8" fill="rgba(0,0,255,0.16)"/>
<g clip-path="url(#c10)" stroke-width="4.0" stroke-linecap="round" stroke-dasharray="16 15.5" fill="none"><line x1="735.7" y1="1495.5" x2="1108.9" y2="1495.5" stroke="#0000ff"/><line x1="735.7" y1="1430.0" x2="1108.9" y2="1430.0" stroke="#ff0000"/><line x1="735.7" y1="1560.8" x2="1108.9" y2="1560.8" stroke="#ff0000"/></g>
<g class="in" clip-path="url(#c10)"><text x="798.2" y="1424.5" text-anchor="end">0.07</text><text x="798.2" y="1490.0" text-anchor="end">0.00</text><text x="798.2" y="1555.3" text-anchor="end">-0.07</text><text x="992.0" y="1424.5">+1.96×SD</text><text x="992.0" y="1490.0">Bias</text><text x="992.0" y="1555.3">-1.96×SD</text></g>
<rect x="735.7" y="1349.3" width="373.2" height="272.6" fill="none" stroke="#000" stroke-width="2" stroke-linejoin="round"/>
<path d="M723.3 1359.4H735.7M723.3 1406.0H735.7M723.3 1452.7H735.7M723.3 1499.3H735.7M723.3 1546.0H735.7M723.3 1592.6H735.7M788.7 1621.9V1634.3M877.5 1621.9V1634.3M966.3 1621.9V1634.3M1055.1 1621.9V1634.3" stroke="#000" stroke-width="2" stroke-linecap="round" fill="none"/>
<g class="ax" text-anchor="middle"><text transform="translate(706.1,1406.0) rotate(-90)">0.10</text><text transform="translate(706.1,1499.3) rotate(-90)">0.00</text><text transform="translate(706.1,1592.6) rotate(-90)">-0.10</text><text x="788.7" y="1667.2">0.8</text><text x="877.5" y="1667.2">1.0</text><text x="966.3" y="1667.2">1.2</text><text x="1055.1" y="1667.2">1.4</text><text x="922.3" y="1717.2">Mean (mmol/L)</text><text transform="translate(656.0,1485.6) rotate(-90)">Difference (mmol/L)</text></g>
<text class="ti" x="922.3" y="1335.6" text-anchor="middle">Phosphate</text>
</g>
<g>
<g clip-path="url(#c11)" fill="rgba(163,163,82,0.27)" stroke="rgba(0,0,0,0.71)" stroke-width="1.90"><circle cx="1377.9" cy="1443.5" r="4.50"/><circle cx="1433.3" cy="1450.6" r="4.50"/><circle cx="1399.8" cy="1472.1" r="4.50"/><circle cx="1405.6" cy="1479.7" r="4.50"/><circle cx="1362.5" cy="1477.8" r="4.50"/><circle cx="1481.8" cy="1470.5" r="4.50"/><circle cx="1510.0" cy="1477.8" r="4.50"/><circle cx="1442.4" cy="1485.0" r="4.50"/><circle cx="1377.2" cy="1490.4" r="4.50"/><circle cx="1393.4" cy="1496.2" r="4.50"/><circle cx="1458.9" cy="1491.8" r="4.50"/><circle cx="1417.7" cy="1499.6" r="4.50"/><circle cx="1423.7" cy="1503.0" r="4.50"/><circle cx="1460.3" cy="1501.4" r="4.50"/><circle cx="1471.5" cy="1501.4" r="4.50"/><circle cx="1471.1" cy="1515.6" r="4.50"/><circle cx="1516.0" cy="1513.8" r="4.50"/><circle cx="1514.8" cy="1522.7" r="4.50"/><circle cx="1465.1" cy="1526.6" r="4.50"/><circle cx="1481.4" cy="1530.1" r="4.50"/><circle cx="1475.2" cy="1555.7" r="4.50"/></g>
<rect x="1285.4" y="1484.3" width="345.6" height="22.4" fill="rgba(0,0,255,0.16)"/>
<g clip-path="url(#c11)" stroke-width="4.0" stroke-linecap="round" stroke-dasharray="16 15.5" fill="none"><line x1="1271.6" y1="1495.5" x2="1644.8" y2="1495.5" stroke="#0000ff"/><line x1="1271.6" y1="1443.0" x2="1644.8" y2="1443.0" stroke="#ff0000"/><line x1="1271.6" y1="1547.7" x2="1644.8" y2="1547.7" stroke="#ff0000"/></g>
<g class="in" clip-path="url(#c11)"><text x="1334.1" y="1437.5" text-anchor="end">0.23</text><text x="1334.1" y="1490.0" text-anchor="end">-0.06</text><text x="1334.1" y="1542.2" text-anchor="end">-0.35</text><text x="1527.9" y="1437.5">+1.96×SD</text><text x="1527.9" y="1490.0">Bias</text><text x="1527.9" y="1542.2">-1.96×SD</text></g>
<rect x="1271.6" y="1349.3" width="373.2" height="272.6" fill="none" stroke="#000" stroke-width="2" stroke-linejoin="round"/>
<path d="M1259.2 1376.0H1271.6M1259.2 1412.2H1271.6M1259.2 1448.5H1271.6M1259.2 1484.8H1271.6M1259.2 1521.0H1271.6M1259.2 1557.2H1271.6M1259.2 1593.5H1271.6M1328.4 1621.9V1634.3M1417.1 1621.9V1634.3M1505.8 1621.9V1634.3M1594.5 1621.9V1634.3" stroke="#000" stroke-width="2" stroke-linecap="round" fill="none"/>
<g class="ax" text-anchor="middle"><text transform="translate(1242.0,1412.2) rotate(-90)">0.4</text><text transform="translate(1242.0,1484.8) rotate(-90)">0.0</text><text transform="translate(1242.0,1593.5) rotate(-90)">-0.6</text><text x="1328.4" y="1667.2">2</text><text x="1417.1" y="1667.2">4</text><text x="1505.8" y="1667.2">6</text><text x="1594.5" y="1667.2">8</text><text x="1458.2" y="1717.2">Mean (mmol/L)</text><text transform="translate(1191.9,1485.6) rotate(-90)">Difference (mmol/L)</text></g>
<text class="ti" x="1458.2" y="1335.6" text-anchor="middle">Urea</text>
</g>
<g>
<g clip-path="url(#c12)" fill="rgba(163,163,82,0.27)" stroke="rgba(0,0,0,0.71)" stroke-width="1.90"><circle cx="348.5" cy="1878.5" r="4.50"/><circle cx="396.1" cy="1884.9" r="4.50"/><circle cx="377.1" cy="1898.0" r="4.50"/><circle cx="377.1" cy="1898.0" r="4.50"/><circle cx="367.4" cy="1904.5" r="4.50"/><circle cx="300.4" cy="1911.2" r="4.50"/><circle cx="300.4" cy="1911.2" r="4.50"/><circle cx="338.4" cy="1911.3" r="4.50"/><circle cx="290.5" cy="1917.9" r="4.50"/><circle cx="328.9" cy="1917.8" r="4.50"/><circle cx="348.2" cy="1918.2" r="4.50"/><circle cx="444.2" cy="1917.9" r="4.50"/><circle cx="300.4" cy="1924.8" r="4.50"/><circle cx="310.0" cy="1931.2" r="4.50"/><circle cx="328.9" cy="1930.9" r="4.50"/><circle cx="348.2" cy="1931.2" r="4.50"/><circle cx="348.2" cy="1931.2" r="4.50"/><circle cx="367.4" cy="1930.9" r="4.50"/><circle cx="386.5" cy="1944.2" r="4.50"/><circle cx="434.6" cy="1950.6" r="4.50"/><circle cx="434.6" cy="1990.3" r="4.50"/></g>
<rect x="213.8" y="1910.6" width="345.6" height="20.6" fill="rgba(0,0,255,0.16)"/>
<g clip-path="url(#c12)" stroke-width="4.0" stroke-linecap="round" stroke-dasharray="16 15.5" fill="none"><line x1="200.0" y1="1920.4" x2="573.2" y2="1920.4" stroke="#0000ff"/><line x1="200.0" y1="1873.5" x2="573.2" y2="1873.5" stroke="#ff0000"/><line x1="200.0" y1="1967.8" x2="573.2" y2="1967.8" stroke="#ff0000"/></g>
<g class="in" clip-path="url(#c12)"><text x="262.5" y="1868.0" text-anchor="end">6.71</text><text x="262.5" y="1914.9" text-anchor="end">-0.43</text><text x="262.5" y="1962.3" text-anchor="end">-7.57</text><text x="456.3" y="1868.0">+1.96×SD</text><text x="456.3" y="1914.9">Bias</text><text x="456.3" y="1962.3">-1.96×SD</text></g>
<text class="cn" x="377.1" y="1885.7" text-anchor="middle">2</text>
<text class="cn" x="300.4" y="1898.9" text-anchor="middle">2</text>
<text class="cn" x="348.2" y="1918.9" text-anchor="middle">2</text>
<rect x="200.0" y="1784.0" width="373.2" height="272.6" fill="none" stroke="#000" stroke-width="2" stroke-linejoin="round"/>
<path d="M187.6 1786.4H200.0M187.6 1852.2H200.0M187.6 1918.1H200.0M187.6 1984.0H200.0M187.6 2049.8H200.0M290.7 2056.6V2069.0M386.4 2056.6V2069.0M482.0 2056.6V2069.0" stroke="#000" stroke-width="2" stroke-linecap="round" fill="none"/>
<g class="ax" text-anchor="middle"><text transform="translate(170.4,1786.4) rotate(-90)">20</text><text transform="translate(170.4,1852.2) rotate(-90)">10</text><text transform="translate(170.4,1918.1) rotate(-90)">0</text><text transform="translate(170.4,1984.0) rotate(-90)">-10</text><text transform="translate(170.4,2049.8) rotate(-90)">-20</text><text x="290.7" y="2101.9">0</text><text x="386.4" y="2101.9">5</text><text x="482.0" y="2101.9">10</text><text x="386.6" y="2151.9">Mean (-)</text><text transform="translate(120.3,1920.3) rotate(-90)">Difference (-)</text></g>
<text class="ti" x="386.6" y="1770.3" text-anchor="middle">H</text>
</g>
<g>
<g clip-path="url(#c13)" fill="rgba(163,163,82,0.27)" stroke="rgba(0,0,0,0.71)" stroke-width="1.90"><circle cx="877.8" cy="1878.5" r="4.50"/><circle cx="877.8" cy="1878.5" r="4.50"/><circle cx="877.8" cy="1878.5" r="4.50"/><circle cx="877.8" cy="1878.5" r="4.50"/><circle cx="877.8" cy="1878.5" r="4.50"/><circle cx="877.8" cy="1878.5" r="4.50"/><circle cx="877.8" cy="1878.5" r="4.50"/><circle cx="877.8" cy="1878.5" r="4.50"/><circle cx="877.8" cy="1878.5" r="4.50"/><circle cx="877.8" cy="1878.5" r="4.50"/><circle cx="877.8" cy="1878.5" r="4.50"/><circle cx="877.8" cy="1878.5" r="4.50"/><circle cx="877.8" cy="1878.5" r="4.50"/><circle cx="877.8" cy="1878.5" r="4.50"/><circle cx="877.8" cy="1878.5" r="4.50"/><circle cx="980.2" cy="1878.5" r="4.50"/><circle cx="980.2" cy="1878.5" r="4.50"/><circle cx="826.4" cy="1990.8" r="4.50"/><circle cx="826.4" cy="1990.8" r="4.50"/><circle cx="826.4" cy="1990.8" r="4.50"/><circle cx="928.8" cy="1990.8" r="4.50"/></g>
<rect x="749.5" y="1880.3" width="345.6" height="38.3" fill="rgba(0,0,255,0.16)"/>
<g clip-path="url(#c13)" stroke-width="4.0" stroke-linecap="round" stroke-dasharray="16 15.5" fill="none"><line x1="735.7" y1="1899.6" x2="1108.9" y2="1899.6" stroke="#0000ff"/><line x1="735.7" y1="1810.9" x2="1108.9" y2="1810.9" stroke="#ff0000"/><line x1="735.7" y1="1988.0" x2="1108.9" y2="1988.0" stroke="#ff0000"/></g>
<g class="in" clip-path="url(#c13)"><text x="798.2" y="1805.4" text-anchor="end">0.60</text><text x="798.2" y="1894.1" text-anchor="end">-0.19</text><text x="798.2" y="1982.5" text-anchor="end">-0.98</text><text x="992.0" y="1805.4">+1.96×SD</text><text x="992.0" y="1894.1">Bias</text><text x="992.0" y="1982.5">-1.96×SD</text></g>
<text class="cn" x="877.8" y="1866.2" text-anchor="middle">15</text>
<text class="cn" x="980.2" y="1866.2" text-anchor="middle">2</text>
<text class="cn" x="826.4" y="1978.5" text-anchor="middle">3</text>
<rect x="735.7" y="1784.0" width="373.2" height="272.6" fill="none" stroke="#000" stroke-width="2" stroke-linejoin="round"/>
<path d="M723.3 1821.9H735.7M723.3 1878.0H735.7M723.3 1934.2H735.7M723.3 1990.3H735.7M723.3 2046.4H735.7M775.2 2056.6V2069.0M826.3 2056.6V2069.0M877.4 2056.6V2069.0M928.6 2056.6V2069.0M979.7 2056.6V2069.0M1030.8 2056.6V2069.0M1081.9 2056.6V2069.0" stroke="#000" stroke-width="2" stroke-linecap="round" fill="none"/>
<g class="ax" text-anchor="middle"><text transform="translate(706.1,1821.9) rotate(-90)">0.5</text><text transform="translate(706.1,1934.2) rotate(-90)">-0.5</text><text transform="translate(706.1,2046.4) rotate(-90)">-1.5</text><text x="775.2" y="2101.9">0.0</text><text x="877.4" y="2101.9">1.0</text><text x="979.7" y="2101.9">2.0</text><text x="1081.9" y="2101.9">3.0</text><text x="922.3" y="2151.9">Mean (-)</text><text transform="translate(656.0,1920.3) rotate(-90)">Difference (-)</text></g>
<text class="ti" x="922.3" y="1770.3" text-anchor="middle">I</text>
</g>
<g>
<g clip-path="url(#c14)" fill="rgba(163,163,82,0.27)" stroke="rgba(0,0,0,0.71)" stroke-width="1.90"><circle cx="1436.5" cy="1878.0" r="4.50"/><circle cx="1436.0" cy="1891.1" r="4.50"/><circle cx="1447.3" cy="1903.9" r="4.50"/><circle cx="1487.8" cy="1903.9" r="4.50"/><circle cx="1516.0" cy="1907.1" r="4.50"/><circle cx="1410.2" cy="1916.7" r="4.50"/><circle cx="1426.6" cy="1913.3" r="4.50"/><circle cx="1410.2" cy="1942.2" r="4.50"/><circle cx="1426.9" cy="1939.0" r="4.50"/><circle cx="1437.9" cy="1939.0" r="4.50"/><circle cx="1476.8" cy="1942.2" r="4.50"/><circle cx="1363.9" cy="1951.6" r="4.50"/><circle cx="1367.8" cy="1958.0" r="4.50"/><circle cx="1362.1" cy="1961.6" r="4.50"/><circle cx="1385.9" cy="1958.0" r="4.50"/><circle cx="1390.2" cy="1964.6" r="4.50"/><circle cx="1401.0" cy="1964.6" r="4.50"/><circle cx="1497.2" cy="1964.6" r="4.50"/><circle cx="1454.8" cy="1974.2" r="4.50"/><circle cx="1424.8" cy="1980.6" r="4.50"/><circle cx="1456.2" cy="1990.3" r="4.50"/></g>
<rect x="1285.4" y="1927.3" width="345.6" height="26.2" fill="rgba(0,0,255,0.16)"/>
<g clip-path="url(#c14)" stroke-width="4.0" stroke-linecap="round" stroke-dasharray="16 15.5" fill="none"><line x1="1271.6" y1="1940.4" x2="1644.8" y2="1940.4" stroke="#0000ff"/><line x1="1271.6" y1="1878.9" x2="1644.8" y2="1878.9" stroke="#ff0000"/><line x1="1271.6" y1="2001.9" x2="1644.8" y2="2001.9" stroke="#ff0000"/></g>
<g class="in" clip-path="url(#c14)"><text x="1334.1" y="1873.4" text-anchor="end">27.80</text><text x="1334.1" y="1934.9" text-anchor="end">8.62</text><text x="1334.1" y="1996.4" text-anchor="end">-10.56</text><text x="1527.9" y="1873.4">+1.96×SD</text><text x="1527.9" y="1934.9">Bias</text><text x="1527.9" y="1996.4">-1.96×SD</text></g>
<rect x="1271.6" y="1784.0" width="373.2" height="272.6" fill="none" stroke="#000" stroke-width="2" stroke-linejoin="round"/>
<path d="M1259.2 1840.0H1271.6M1259.2 1904.2H1271.6M1259.2 1968.4H1271.6M1259.2 2032.6H1271.6M1343.7 2056.6V2069.0M1417.8 2056.6V2069.0M1492.0 2056.6V2069.0M1566.1 2056.6V2069.0M1640.3 2056.6V2069.0" stroke="#000" stroke-width="2" stroke-linecap="round" fill="none"/>
<g class="ax" text-anchor="middle"><text transform="translate(1242.0,1840.0) rotate(-90)">40</text><text transform="translate(1242.0,1904.2) rotate(-90)">20</text><text transform="translate(1242.0,1968.4) rotate(-90)">0</text><text transform="translate(1242.0,2032.6) rotate(-90)">-20</text><text x="1343.7" y="2101.9">0</text><text x="1417.8" y="2101.9">20</text><text x="1492.0" y="2101.9">40</text><text x="1566.1" y="2101.9">60</text><text x="1640.3" y="2101.9">80</text><text x="1458.2" y="2151.9">Mean (-)</text><text transform="translate(1191.9,1920.3) rotate(-90)">Difference (-)</text></g>
<text class="ti" x="1458.2" y="1770.3" text-anchor="middle">L</text>
</g>
</svg>
</body></html>
